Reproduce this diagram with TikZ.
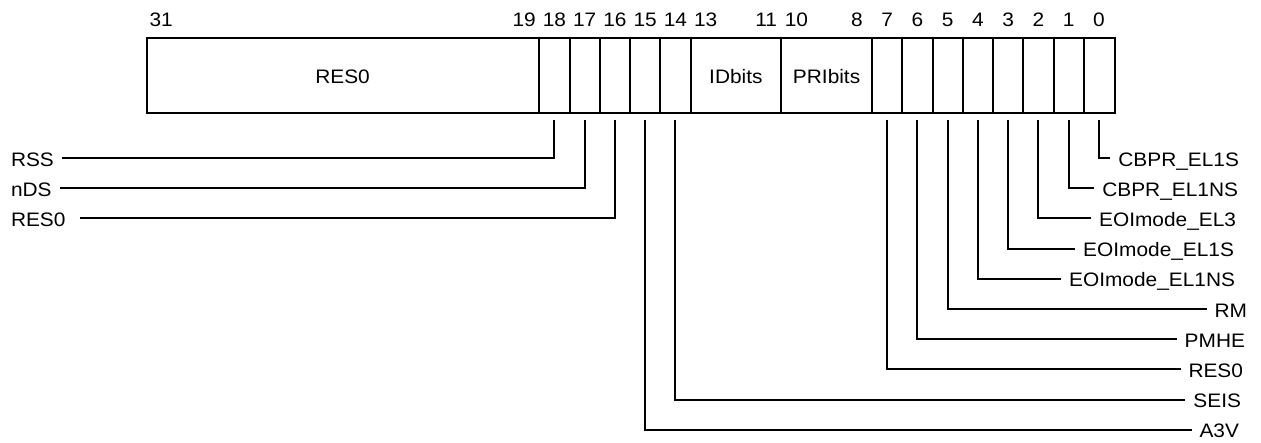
\documentclass[tikz,border=0pt]{standalone}
\usepackage{fontspec}
\setmainfont{Liberation Sans}[FakeStretch=1.07]
\begin{document}
\begin{tikzpicture}[x=1pt,y=-1pt,line width=2pt,line join=miter,
  txt/.style={font=\fontsize{19.5}{23}\selectfont, inner sep=0pt},
  lab/.style={txt, text height=16pt, text depth=0pt, inner xsep=7pt, inner ysep=0pt},
  labR/.style={lab, anchor=east},
  labL/.style={lab, anchor=west},
  num/.style={txt, anchor=base},
  regbox/.style={draw, line width=2pt, minimum width=968pt, minimum height=75pt, inner sep=0pt, anchor=north west},
  conn/.style={draw, line width=2pt}]
\useasboundingbox (0,0) rectangle (1261,442);
% register box
\node[regbox] (reg) at (146,37) {};
\foreach \b in {1,2,3,4,5,6,7,8,11,14,15,16,17,18,19}
  \draw ({1114-\b*30.25},37) -- ({1114-\b*30.25},112);
% field texts
\node[num] (fres) at (342.6,83) {RES0};
\node[num] (fid) at (735.9,83) {IDbits};
\node[num] (fpri) at (826.6,83) {PRIbits};
% bit numbers
\foreach \i in {31,19,18,17,16,15,14,13,11,10,8,7,6,5,4,3,2,1,0}
  \node[num] (n\i) at ({1114-(\i+0.5)*30.25},26) {\i};
% bit connector starts
\foreach \i in {0,1,2,3,4,5,6,7,14,15,16,17,18}
  \coordinate (b\i) at ({1114-(\i+0.5)*30.25},119.5);
% right labels
\node[labR] (r0) at (1247,158) {CBPR\_EL1S};
\node[labR] (r1) at (1246,188.2) {CBPR\_EL1NS};
\node[labR] (r2) at (1244,218.4) {EOImode\_EL3};
\node[labR] (r3) at (1242,248.6) {EOImode\_EL1S};
\node[labR] (r4) at (1243,278.8) {EOImode\_EL1NS};
\node[labR] (r5) at (1255,309) {RM};
\node[labR] (r6) at (1253,339.2) {PMHE};
\node[labR] (r7) at (1251,369.4) {RES0};
\node[labR] (r14) at (1249,399.6) {SEIS};
\node[labR] (r15) at (1247,429.8) {A3V};
% left labels
\node[labL] (l18) at (3,158) {RSS};
\node[labL] (l17) at (3,188.2) {nDS};
\node[labL, inner xsep=13pt] (l16) at (-3,218.4) {RES0};
% connectors
\foreach \i in {0,1,2,3,4,5,6,7,14,15}
  \draw[conn] (b\i) |- (r\i.west);
\foreach \i in {16,17,18}
  \draw[conn] (b\i) |- (l\i.east);
\end{tikzpicture}
\end{document}
